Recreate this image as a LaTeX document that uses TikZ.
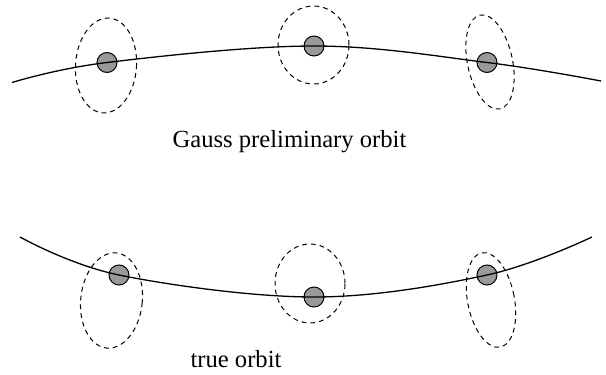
\documentclass[tikz,border=0pt]{standalone}
\usepackage{fontspec}
\setmainfont{Liberation Serif}
\usetikzlibrary{shapes.geometric}

\begin{document}
\begin{tikzpicture}[
            x=0.5pt, y=-0.5pt,
            body/.style={circle, draw=black, line width=0.5pt, fill=black!40,
            minimum size=10pt, inner sep=0pt},
            err/.style={ellipse, draw=black, line width=0.5pt,
            dash pattern=on 2.4pt off 2pt, inner sep=0pt},
            orbit/.style={line width=0.65pt},
            lbl/.style={font=\fontsize{12.3}{14}\selectfont, anchor=base, inner sep=0pt}
        ]
\useasboundingbox (0,0) rectangle (606,375);

% ----- Beobachtungen (oben) -----
            \node[body] (g1) at (107,62.5) {};
            \node[body] (g2) at (314,46) {};
            \node[body] (g3) at (487,62.5) {};
            \coordinate (ga) at (12,82.5);
            \coordinate (gb) at (601,81);

% ----- Beobachtungen (unten) -----
            \node[body] (t1) at (119,275) {};
            \node[body] (t2) at (314,297) {};
            \node[body] (t3) at (487,275) {};
            \coordinate (ta) at (20,237);
            \coordinate (tb) at (592,237);

% ----- Bahnen -----
            \draw[orbit] plot[smooth, tension=0.6] coordinates
                {(ga) (g1.center) (g2.center) (g3.center) (gb)};
            \draw[orbit] plot[smooth, tension=0.6] coordinates
                {(ta) (t1.center) (t2.center) (t3.center) (tb)};

% Fehlerellipsen
            \node[err, minimum width=30.5pt, minimum height=47.5pt, rotate=-4] (e1) at (106,65.5) {};
            \node[err, minimum width=35.5pt, minimum height=39pt] (e2) at (313.5,45) {};
            \node[err, minimum width=22.5pt, minimum height=48pt, rotate=12] (e3) at (490,62) {};
            \node[err, minimum width=30.8pt, minimum height=47.8pt, rotate=-6] (e4) at (111.5,300.5) {};
            \node[err, minimum width=35pt, minimum height=39.5pt] (e5) at (310,283.5) {};
            \node[err, minimum width=23.4pt, minimum height=48pt, rotate=11] (e6) at (491,300) {};

% ----- Beschriftung -----
            \node[lbl] (gauss) at (289.5,148) {Gauss preliminary orbit};
            \node[lbl] (true) at (236,367) {true orbit};

        \end{tikzpicture}
\end{document}
